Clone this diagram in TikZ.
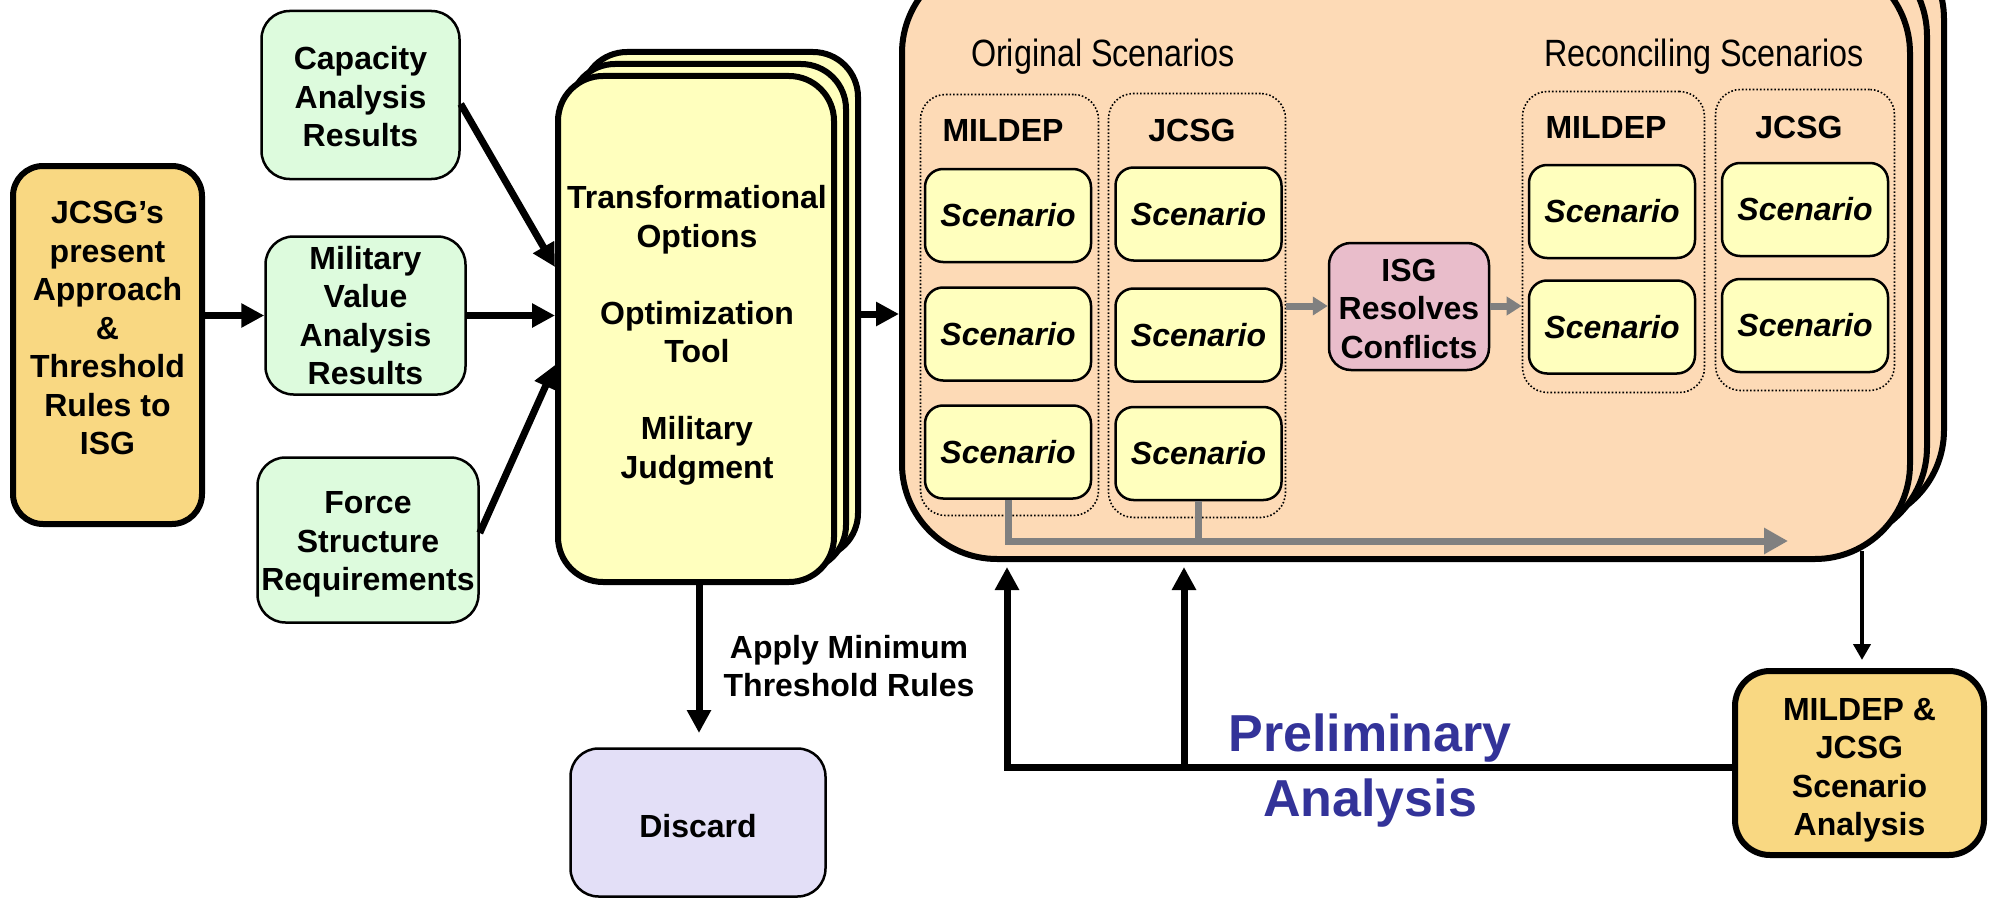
\documentclass[tikz,border=0pt]{standalone}
\usepackage{fontspec}
\setmainfont{Liberation Sans}
\newfontfamily\narrowfont[FakeStretch=0.85]{Liberation Sans}
\usetikzlibrary{arrows.meta,calc}
\definecolor{gold}{HTML}{F9D882}
\definecolor{mint}{HTML}{DDFBDD}
\definecolor{cream}{HTML}{FFFFBE}
\definecolor{peach}{HTML}{FDDAB6}
\definecolor{pinkisg}{HTML}{E9BDCB}
\definecolor{lav}{HTML}{E3DFF7}
\definecolor{navy}{HTML}{333399}
\definecolor{grayline}{HTML}{808080}
\tikzset{
 txt/.style={align=center, inner sep=0pt, font=\fontsize{32}{38.5}\selectfont\bfseries},
 boxbase/.style={txt, rectangle, draw=black},
 heavy/.style={boxbase, line width=6pt},
 light/.style={boxbase, line width=2.5pt},
 greenbox/.style={light, fill=mint, rounded corners=28pt},
 scen/.style={light, fill=cream, rounded corners=18pt, minimum width=166pt, minimum height=93pt, font=\fontsize{32}{38}\selectfont\bfseries\itshape},
 grp/.style={draw=black, dotted, line width=1.6pt, rounded corners=25pt, rectangle, inner sep=0pt},
 heading/.style={inner sep=0pt, font=\fontsize{38}{44}\selectfont\narrowfont},
 arr/.style={draw=black, line width=7pt, -{Triangle[length=23pt,width=23pt]}},
 garr/.style={draw=grayline, line width=7pt, -{Triangle[length=15pt,width=18pt]}},
 garrbig/.style={draw=grayline, line width=7pt, -{Triangle[length=24pt,width=25pt]}},
 gline/.style={draw=grayline, line width=7pt},
 thinarr/.style={draw=black, line width=4.5pt, -{Triangle[length=16pt,width=17pt]}},
 contbox/.style={heavy, fill=peach, rounded corners=95pt, minimum width=1008pt, minimum height=601pt},
 transbox/.style={heavy, fill=cream, rounded corners=45pt, minimum width=276pt, minimum height=506pt},
}
\begin{document}
\begin{tikzpicture}[x=1pt,y=-1pt]
\useasboundingbox (0,0) rectangle (1998,899);
\clip (0,0) rectangle (1998,899);
\fill[white] (0,0) rectangle (1998,899);

% left column
\node[heavy, fill=gold, rounded corners=30pt, minimum width=189pt, minimum height=358pt] (jcsg) at (107.5,345) {};
\node[txt] (jcsgtxt) at (107.5,328) {JCSG’s\\present\\Approach\\\&\\Threshold\\Rules to\\ISG};

\node[greenbox, minimum width=198pt, minimum height=168pt] (capacity) at (360.5,95) {};
\node[txt] (capacitytxt) at (360.5,97) {Capacity\\Analysis\\Results};
\node[greenbox, minimum width=200pt, minimum height=158pt] (milval) at (365.5,315.5) {Military\\Value\\Analysis\\Results};
\node[greenbox, minimum width=221pt, minimum height=165pt] (force) at (368,540) {};
\node[txt] (forcetxt) at (368,544.5) {Force\\Structure\\Requirements};

% transformational stack
\node[transbox] (trans3) at (720,305) {};
\node[transbox] (trans2) at (708,317) {};
\node[transbox] (trans) at (696,329) {};
\node[txt] (transtxt) at (697,335.5) {Transformational\\Options\\[38.5pt]Optimization\\Tool\\[38.5pt]Military\\Judgment};

% container stack
\node[contbox] (cont3) at (1440,224.5) {};
\node[contbox] (cont2) at (1423,241.5) {};
\node[contbox] (cont) at (1406,258.5) {};

\node[heading] (origh) at (1103,57) {Original Scenarios};
\node[heading] (reconh) at (1704,57) {Reconciling Scenarios};

\node[grp, minimum width=178pt, minimum height=421pt] (oM) at (1009.5,305) {};
\node[grp, minimum width=177pt, minimum height=424pt] (oJ) at (1197,305.5) {};
\node[grp, minimum width=182pt, minimum height=301pt] (rM) at (1613.5,242) {};
\node[grp, minimum width=179pt, minimum height=301pt] (rJ) at (1805,240) {};

\node[txt] (oMl) at (1003,130) {MILDEP};
\node[txt] (oJl) at (1192,130) {JCSG};
\node[txt] (rMl) at (1606,127) {MILDEP};
\node[txt] (rJl) at (1799,127) {JCSG};

\node[scen] (oM1) at (1008,215.5) {Scenario};
\node[scen] (oM2) at (1008,334) {Scenario};
\node[scen] (oM3) at (1008,452) {Scenario};
\node[scen] (oJ1) at (1198.5,214) {Scenario};
\node[scen] (oJ2) at (1198.5,335) {Scenario};
\node[scen] (oJ3) at (1198.5,453.5) {Scenario};
\node[scen] (rM1) at (1612,211.5) {Scenario};
\node[scen] (rM2) at (1612,327) {Scenario};
\node[scen] (rJ1) at (1805,209.5) {Scenario};
\node[scen] (rJ2) at (1805,325.5) {Scenario};

\node[light, fill=pinkisg, rounded corners=22pt, minimum width=160pt, minimum height=127pt] (isg) at (1409,306.5) {};
\node[txt] (isgtxt) at (1409,308.5) {ISG\\Resolves\\Conflicts};

% gray connectors
\coordinate (ga) at (0,306);
\draw[garr] (ga -| oJ.east) -- (ga -| isg.west);
\draw[garr] (ga -| isg.east) -- (ga -| rM.west);
\coordinate (gend) at (1788,541);
\draw[gline] (oJ3.south) -- (oJ3.south |- gend);
\draw[garrbig] (oM3.south) |- (gend);

% discard
\node[light, fill=lav, rounded corners=28pt, minimum width=255pt, minimum height=148pt] (discard) at (698,822.5) {};
\node[txt] (discardtxt) at (698,826.5) {Discard};
\node[txt] (applyl) at (849,666) {Apply Minimum\\Threshold Rules};

% MILDEP & JCSG analysis
\node[heavy, fill=gold, rounded corners=35pt, minimum width=249pt, minimum height=184pt] (mj) at (1859.5,763) {};
\node[txt] (mjtxt) at (1859.5,770) {MILDEP \&\\JCSG\\Scenario\\Analysis};

% black connectors
\draw[arr] (milval.west -| jcsg.east) -- (milval.west);
\draw[arr] ($(capacity.east)+(0,9)$) -- ($(trans.west)+(0,-62)$);
\draw[arr] (milval.east) -- (milval.east -| trans.west);
\draw[arr] ($(force.east)+(0,-7)$) -- ($(trans.west)+(0,36)$);
\coordinate (ta) at (0,314);
\draw[arr] (ta -| trans3.east) -- (ta -| cont.west);
\coordinate (dtip) at (699,733);
\draw[arr] (dtip |- trans.south) -- (dtip);

\coordinate (fb1) at (1007,767);
\coordinate (fb2) at (1184,767);
\coordinate (fbtip) at (1007,567);
\draw[arr] (mj.west |- fb1) -- (fb1) -- (fbtip);
\draw[arr] (fb2) -- (fb2 |- fbtip);

\coordinate (cd) at (1862,551);
\coordinate (cdtip) at (1862,660);
\draw[thinarr] (cd) -- (cdtip);

\node[inner sep=0pt, align=center, text=navy, font=\fontsize{52}{65}\selectfont\bfseries] (prelim) at (1370,771) {Preliminary\\Analysis};
\end{tikzpicture}
\end{document}
